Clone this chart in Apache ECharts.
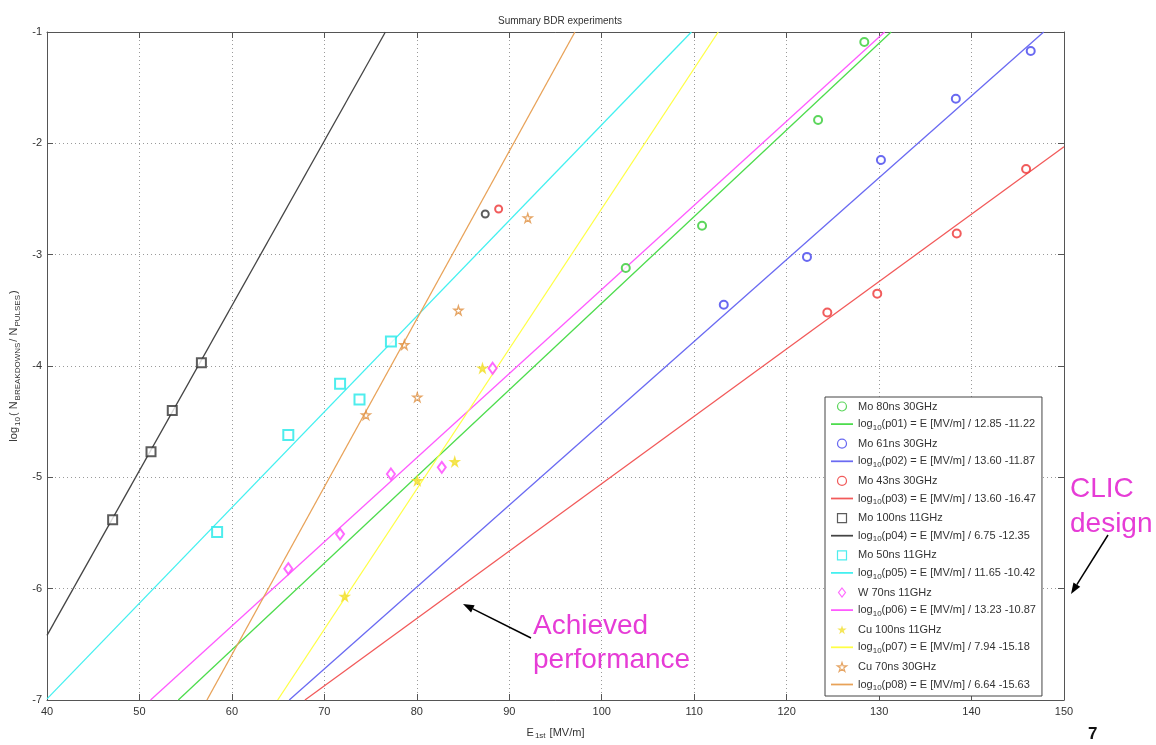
<!DOCTYPE html>
<html><head><meta charset="utf-8">
<script src="https://cdn.jsdelivr.net/npm/echarts@6/dist/echarts.min.js"></script>
<style>html,body{margin:0;padding:0;background:#fff}#c{width:1156px;height:745px}</style>
</head><body><div id="c"></div>
<script>
// ---- measured data (E [MV/m], log10 BDR) ----
const mo80ns30  = [[102.6,-3.12],[110.85,-2.74],[123.4,-1.79],[128.4,-1.09]];
const mo61ns30  = [[113.2,-3.45],[122.2,-3.02],[130.2,-2.15],[138.3,-1.60],[146.4,-1.17]];
const mo43ns30  = [[124.4,-3.52],[129.8,-3.35],[138.4,-2.81],[145.9,-2.23]];
const mo100ns11 = [[47.1,-5.38],[51.25,-4.77],[53.55,-4.40],[56.7,-3.97]];
const mo50ns11  = [[58.4,-5.49],[66.1,-4.62],[71.7,-4.16],[73.8,-4.30],[77.2,-3.78]];
const w70ns11   = [[66.1,-5.82],[71.7,-5.51],[77.2,-4.97],[82.7,-4.91],[88.2,-4.02]];
const cu100ns11 = [[72.2,-6.07],[80.05,-5.03],[84.1,-4.86],[87.1,-4.02]];
const cu70ns30  = [[74.5,-4.44],[78.65,-3.81],[80.05,-4.28],[84.5,-3.50],[92.0,-2.67]];
const extraBlack = [[87.4,-2.635]];
const extraRed   = [[88.85,-2.59]];
// ---- fit lines (end points) ----
const fit01 = [[54.2,-7],[131.3,-1]];
const fit02 = [[66.2,-7],[147.8,-1]];
const fit03 = [[67.9,-7],[150,-2.03]];
const fit04 = [[40,-6.42],[76.6,-1]];
const fit05 = [[40,-6.99],[109.7,-1]];
const fit06 = [[51.2,-7],[130.6,-1]];
const fit07 = [[64.95,-7],[112.6,-1]];
const fit08 = [[57.3,-7],[97.1,-1]];
// ---- labels ----
const seriesNames = ['Mo 80ns 30GHz','Mo 61ns 30GHz','Mo 43ns 30GHz','Mo 100ns 11GHz','Mo 50ns 11GHz','W 70ns 11GHz','Cu 100ns 11GHz','Cu 70ns 30GHz'];
const fitNames = [
 'log10(p01) = E [MV/m] / 12.85 -11.22',
 'log10(p02) = E [MV/m] / 13.60 -11.87',
 'log10(p03) = E [MV/m] / 13.60 -16.47',
 'log10(p04) = E [MV/m] / 6.75 -12.35',
 'log10(p05) = E [MV/m] / 11.65 -10.42',
 'log10(p06) = E [MV/m] / 13.23 -10.87',
 'log10(p07) = E [MV/m] / 7.94 -15.18',
 'log10(p08) = E [MV/m] / 6.64 -15.63'];
const titleText = 'Summary BDR experiments';

const lineColors   = ['#4ddc4d','#6a6af2','#f25a5a','#444444','#44f0f0','#ff5aff','#ffff44','#e8a258'];
const markerColors = ['#33cc33','#4444ee','#ee3333','#333333','#22e8e8','#ff44ff','#f2e030','#e09040'];
const STAR = 'path://M50,0 L61,35 L98,35 L68,57 L79,92 L50,70 L21,92 L32,57 L2,35 L39,35 Z';
const CIRC = 'path://M50,0 A50,50,0,1,1,49.99,0 Z';
const SQR  = 'path://M0,0 L100,0 L100,100 L0,100 Z';
const DIA  = 'path://M50,0 L100,65 L50,130 L0,65 Z';
const LINE = 'path://M0,0 L100,0 L100,8 L0,8 Z';
const markerSymbols = ['emptyCircle','emptyCircle','emptyCircle','emptyRect','emptyRect','emptyDiamond', STAR, STAR];
const legendIcons = [CIRC,CIRC,CIRC,SQR,SQR,DIA,STAR,STAR];
const markerSizes = [8,8,8,9,10,[8,11],9,9];
const scatterData = [mo80ns30,mo61ns30,mo43ns30,mo100ns11,mo50ns11,w70ns11,cu100ns11,cu70ns30];
const fitData = [fit01,fit02,fit03,fit04,fit05,fit06,fit07,fit08];

const FONT = 'Liberation Sans, Arial, sans-serif';
const series = [];
const legendData = [];
for (let i=0;i<8;i++){
  const filled = i===6;
  const hollowPath = i===7;
  series.push({
    name: seriesNames[i], type:'scatter', data: scatterData[i],
    symbol: markerSymbols[i], symbolSize: markerSizes[i],
    itemStyle: {color: hollowPath ? 'rgba(255,255,255,0)' : markerColors[i],
                borderColor: markerColors[i], borderWidth: 1.3},
    z: 5, silent:true
  });
  series.push({
    name: fitNames[i], type:'line', data: fitData[i], symbol:'none', clip:true,
    lineStyle:{color: lineColors[i], width:1.3}, itemStyle:{color: lineColors[i]}, z: 3, silent:true
  });
  legendData.push({name: seriesNames[i], icon: legendIcons[i],
    itemStyle: filled ? {color: markerColors[i], borderWidth:0}
                      : {color:'rgba(255,255,255,0)', borderColor: markerColors[i], borderWidth:1.2}});
  legendData.push({name: fitNames[i], icon: LINE,
    itemStyle:{color: lineColors[i], borderWidth:0}});
}
series.push({name:'extraBlack', type:'scatter', data: extraBlack, symbol:'emptyCircle', symbolSize:7,
  itemStyle:{color:'#333', borderColor:'#333', borderWidth:2}, z:5, silent:true});
series.push({name:'extraRed', type:'scatter', data: extraRed, symbol:'emptyCircle', symbolSize:7,
  itemStyle:{color:'#ee3333', borderColor:'#ee3333', borderWidth:2}, z:5, silent:true});

const gridLine = {show:true, lineStyle:{color:'#9a9a9a', type:[1,3], width:1}};
const axisBase = {min:40, max:150, interval:10};

const option = {
  backgroundColor:'#fff',
  animation:false,
  title:{text:titleText, left:555, top:11, textAlign:'center',
    textStyle:{fontSize:10, fontWeight:'normal', color:'#333', fontFamily:FONT}},
  grid:{left:47, right:92, top:32, bottom:33, containLabel:false, show:false},
  xAxis:[
    Object.assign({type:'value', position:'bottom',
      name:'{t|E}{s|1st}{t| [MV/m]}', nameLocation:'middle', nameGap:25,
      nameTextStyle:{rich:{t:{fontSize:11,color:'#333',fontFamily:FONT},s:{fontSize:8,color:'#333',fontFamily:FONT,padding:[7,1,0,1]}}},
      axisLine:{show:true,lineStyle:{color:'#555',width:1}},
      axisTick:{show:true,inside:true,length:6,lineStyle:{color:'#555'}},
      axisLabel:{color:'#333',fontSize:11,fontFamily:FONT,margin:6},
      splitLine:gridLine}, axisBase),
    Object.assign({type:'value', position:'top',
      axisLine:{show:true,lineStyle:{color:'#555',width:1}},
      axisTick:{show:true,inside:true,length:6,lineStyle:{color:'#555'}},
      axisLabel:{show:false}, splitLine:{show:false}}, axisBase)
  ],
  yAxis:[
    {type:'value', min:-7, max:-1, interval:1, position:'left',
      name:'{t|log}{s|10}{t|( N}{s|BREAKDOWNS}{t|/ N}{s|PULSES}{t|)}', nameLocation:'middle', nameGap:24, nameRotate:90,
      nameTextStyle:{rich:{t:{fontSize:11,color:'#333',fontFamily:FONT},s:{fontSize:8,color:'#333',fontFamily:FONT,padding:[7,1,0,1]}}},
      axisLine:{show:true,lineStyle:{color:'#555',width:1}},
      axisTick:{show:true,inside:true,length:6,lineStyle:{color:'#555'}},
      axisLabel:{color:'#333',fontSize:11,fontFamily:FONT,margin:5},
      splitLine:gridLine},
    {type:'value', min:-7, max:-1, interval:1, position:'right',
      axisLine:{show:true,lineStyle:{color:'#555',width:1}},
      axisTick:{show:true,inside:true,length:6,lineStyle:{color:'#555'}},
      axisLabel:{show:false}, splitLine:{show:false}}
  ],
  legend:{
    data: legendData, orient:'vertical', left:825, top:397,
    itemWidth:22, itemHeight:9, itemGap:6.6, symbolKeepAspect:true,
    backgroundColor:'#fff', borderColor:'#444', borderWidth:1, padding:[4,6,4,6],
    selectedMode:false,
    textStyle:{fontFamily:FONT, fontSize:11, color:'#333',
      rich:{t:{fontSize:11,color:'#333',fontFamily:FONT},
            s:{fontSize:8,color:'#333',fontFamily:FONT,padding:[7,0,0,0]}}},
    formatter: function(name){
      if (name.indexOf('log10')===0) return '{t|log}{s|10}{t|' + name.slice(5) + '}';
      return '{t|' + name + '}';
    }
  },
  series: series
};

const chart = echarts.init(document.getElementById('c'), null, {renderer:'canvas'});
chart.setOption(option);

// ---- annotations ----
function arrow(x1,y1,x2,y2){
  const dx=x2-x1, dy=y2-y1, L=Math.sqrt(dx*dx+dy*dy), ux=dx/L, uy=dy/L;
  const hl=11, hw=4;
  const bx=x2-hl*ux, by=y2-hl*uy, nx=-uy, ny=ux;
  return [
    {type:'line', shape:{x1:x1,y1:y1,x2:bx,y2:by}, style:{stroke:'#000',lineWidth:1.5}, z:100},
    {type:'polygon', shape:{points:[[x2,y2],[bx+hw*nx,by+hw*ny],[bx-hw*nx,by-hw*ny]]}, style:{fill:'#000'}, z:100}
  ];
}
const pink = '#e63cd6';
const annoFont = '28px ' + FONT;
chart.setOption({graphic: [
  ...arrow(531,638,463,604),
  ...arrow(1108,535,1071,594),
  {type:'text', left:533, top:612, style:{text:'Achieved', font:annoFont, fill:pink}, z:100},
  {type:'text', left:533, top:646, style:{text:'performance', font:annoFont, fill:pink}, z:100},
  {type:'text', left:1070, top:475, style:{text:'CLIC', font:annoFont, fill:pink}, z:100},
  {type:'text', left:1070, top:510, style:{text:'design', font:annoFont, fill:pink}, z:100},
  {type:'text', left:1088, top:726, style:{text:'7', font:'bold 17px ' + FONT, fill:'#111'}, z:100}
]});
</script>
</body></html>
